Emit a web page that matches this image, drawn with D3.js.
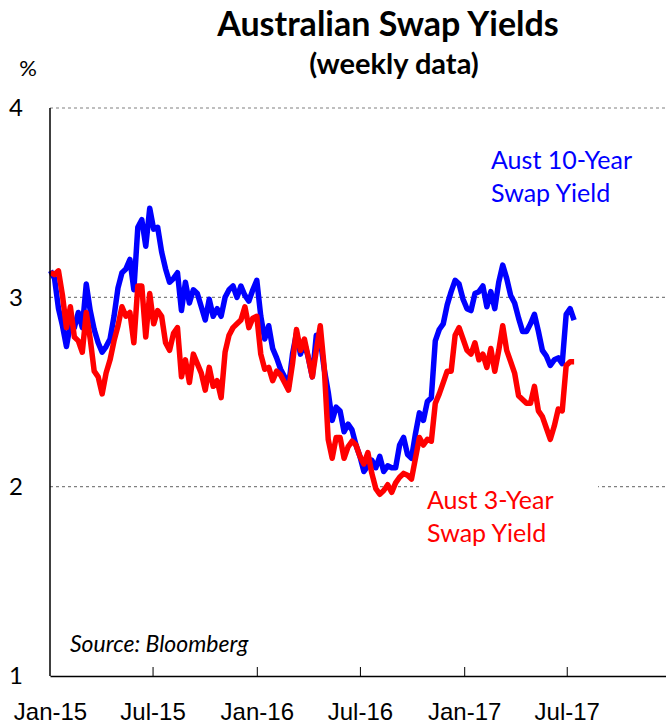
<!DOCTYPE html>
<html>
<head>
<meta charset="utf-8">
<script src="https://cdn.jsdelivr.net/npm/d3@7"></script>
<style>
    body { margin: 0; background: #fff; }
    svg { display: block; font-family: Lato, "Open Sans", sans-serif; }
</style>
</head>
<body>
<svg width="666" height="725"></svg>
<script>
// weekly observations, first week ending 2 Jan 2015
const firstWeek = new Date(2015, 0, 2);

const swap10y = [
    3.14, 3.10, 2.94, 2.85, 2.74, 2.86, 2.84, 2.92, 2.84, 3.07,
    2.93, 2.83, 2.76, 2.71, 2.74, 2.78, 2.90, 3.05, 3.13, 3.15,
    3.20, 3.04, 3.37, 3.41, 3.27, 3.47, 3.36, 3.37, 3.24, 3.15,
    3.08, 3.10, 3.13, 2.93, 3.08, 2.97, 3.04, 3.02, 2.95, 2.88,
    2.99, 2.90, 2.94, 2.90, 3.00, 3.04, 3.06, 3.00, 3.06, 3.01,
    2.98, 3.04, 3.09, 2.90, 2.78, 2.85, 2.73, 2.68, 2.62, 2.58,
    2.53, 2.70, 2.81, 2.70, 2.76, 2.68, 2.58, 2.80, 2.78, 2.62,
    2.50, 2.35, 2.42, 2.40, 2.29, 2.33, 2.30, 2.22, 2.16, 2.08,
    2.11, 2.14, 2.10, 2.16, 2.08, 2.11, 2.10, 2.10, 2.22, 2.26,
    2.17, 2.15, 2.28, 2.39, 2.35, 2.45, 2.47, 2.77, 2.83, 2.86,
    2.96, 3.03, 3.09, 3.07, 2.99, 2.94, 2.93, 3.02, 3.03, 3.06,
    2.95, 3.03, 2.94, 3.08, 3.17, 3.10, 3.01, 2.97, 2.89, 2.82,
    2.82, 2.86, 2.91, 2.82, 2.72, 2.69, 2.64, 2.67, 2.68, 2.65,
    2.91, 2.94, 2.88
];

const swap3y = [
    3.13, 3.12, 3.14, 3.01, 2.84, 2.95, 2.79, 2.77, 2.71, 2.92,
    2.78, 2.61, 2.58, 2.49, 2.60, 2.67, 2.77, 2.85, 2.95, 2.90,
    2.92, 2.76, 3.06, 3.06, 2.79, 3.02, 2.86, 2.93, 2.90, 2.76,
    2.72, 2.81, 2.84, 2.58, 2.67, 2.55, 2.70, 2.65, 2.60, 2.51,
    2.63, 2.53, 2.56, 2.47, 2.71, 2.80, 2.84, 2.86, 2.88, 2.95,
    2.84, 2.89, 2.90, 2.70, 2.62, 2.63, 2.56, 2.61, 2.59, 2.55,
    2.51, 2.65, 2.83, 2.72, 2.78, 2.68, 2.58, 2.72, 2.85, 2.63,
    2.25, 2.15, 2.26, 2.26, 2.15, 2.21, 2.24, 2.22, 2.16, 2.12,
    2.18, 2.07, 1.99, 1.96, 1.98, 2.01, 1.97, 2.02, 2.05, 2.07,
    2.06, 2.04, 2.15, 2.26, 2.22, 2.25, 2.24, 2.44, 2.49, 2.55,
    2.61, 2.61, 2.80, 2.84, 2.78, 2.72, 2.70, 2.76, 2.67, 2.70,
    2.63, 2.73, 2.61, 2.72, 2.85, 2.72, 2.66, 2.60, 2.48, 2.46,
    2.44, 2.44, 2.53, 2.40, 2.37, 2.31, 2.25, 2.32, 2.41, 2.40,
    2.64, 2.66, 2.66
];

const tickDates = [
    new Date(2015, 0, 1), new Date(2015, 6, 1),
    new Date(2016, 0, 1), new Date(2016, 6, 1),
    new Date(2017, 0, 1), new Date(2017, 6, 1)
];
const yTicks = [1, 2, 3, 4];
const gridValues = [2, 3, 4];

const svg = d3.select("svg"),
    width = +svg.attr("width");

const x = d3.scaleTime()
    .domain([new Date(2015, 0, 1), new Date(2018, 0, 1)])
    .range([50, 671]);

const y = d3.scaleLinear()
    .domain([1, 4])
    .range([676, 108]);

function weekDate(i) {
    return d3.timeDay.offset(firstWeek, 7 * i);
}

// dashed horizontal grid
svg.append("g")
    .selectAll("line")
    .data(gridValues)
    .enter().append("line")
    .attr("x1", x.range()[0])
    .attr("x2", width)
    .attr("y1", function (d) { return y(d); })
    .attr("y2", function (d) { return y(d); })
    .attr("stroke", "#808080")
    .attr("stroke-width", 1.2)
    .attr("stroke-dasharray", "3,3");

const line = d3.line()
    .x(function (d, i) { return x(weekDate(i)); })
    .y(function (d) { return y(d); });

svg.append("path")
    .datum(swap10y)
    .attr("fill", "none")
    .attr("stroke", "#0000ff")
    .attr("stroke-width", 5.5)
    .attr("stroke-linejoin", "round")
    .attr("d", line);

// label box for the 3-year series hides the grid line under it
svg.append("rect")
    .attr("x", 420)
    .attr("y", 481)
    .attr("width", 178)
    .attr("height", 68)
    .attr("fill", "#fff");

svg.append("path")
    .datum(swap3y)
    .attr("fill", "none")
    .attr("stroke", "#ff0000")
    .attr("stroke-width", 5.5)
    .attr("stroke-linejoin", "round")
    .attr("d", line);

// axes
const xAxis = svg.append("g")
    .attr("transform", "translate(0," + y(1) + ")")
    .call(d3.axisBottom(x)
        .tickValues(tickDates)
        .tickFormat(d3.timeFormat("%b-%y"))
        .tickSizeInner(-9)
        .tickSizeOuter(0)
        .tickPadding(27));
xAxis.select(".domain").attr("stroke", "#000").attr("stroke-width", 1.5);
xAxis.selectAll(".tick line").attr("stroke", "#000");
xAxis.selectAll("text").attr("font-size", 24).attr("fill", "#000");
xAxis.selectAll(".tick").filter(function (d, i) { return i === 0; })
    .select("line").remove();

svg.append("line")
    .attr("x1", 50).attr("x2", 50)
    .attr("y1", y(4)).attr("y2", y(1))
    .attr("stroke", "#000")
    .attr("stroke-width", 1.5);

svg.append("g")
    .selectAll("text")
    .data(yTicks)
    .enter().append("text")
    .attr("x", 16)
    .attr("y", function (d) { return y(d); })
    .attr("dy", "0.35em")
    .attr("text-anchor", "middle")
    .attr("font-size", 24)
    .text(function (d) { return d; });

svg.append("text")
    .attr("x", 28).attr("y", 76)
    .attr("text-anchor", "middle")
    .attr("font-size", 22)
    .text("%");

// titles
svg.append("text")
    .attr("x", 388).attr("y", 36)
    .attr("text-anchor", "middle")
    .attr("font-size", 34)
    .attr("font-weight", "bold")
    .text("Australian Swap Yields");

svg.append("text")
    .attr("x", 394).attr("y", 74)
    .attr("text-anchor", "middle")
    .attr("font-size", 29)
    .attr("font-weight", "bold")
    .text("(weekly data)");

// series labels
const labels = [
    { lines: ["Aust 10-Year", "Swap Yield"], x: 491, y: 169, color: "#0000ff" },
    { lines: ["Aust 3-Year", "Swap Yield"], x: 427, y: 509, color: "#ff0000" }
];

labels.forEach(function (l) {
    svg.append("text")
        .attr("x", l.x).attr("y", l.y)
        .attr("font-size", 25)
        .attr("fill", l.color)
        .selectAll("tspan")
        .data(l.lines)
        .enter().append("tspan")
        .attr("x", l.x)
        .attr("dy", function (d, i) { return i === 0 ? 0 : 33; })
        .text(function (d) { return d; });
});

svg.append("text")
    .attr("x", 70).attr("y", 652)
    .attr("font-size", 23)
    .attr("font-style", "italic")
    .text("Source: Bloomberg");
</script>
</body>
</html>
